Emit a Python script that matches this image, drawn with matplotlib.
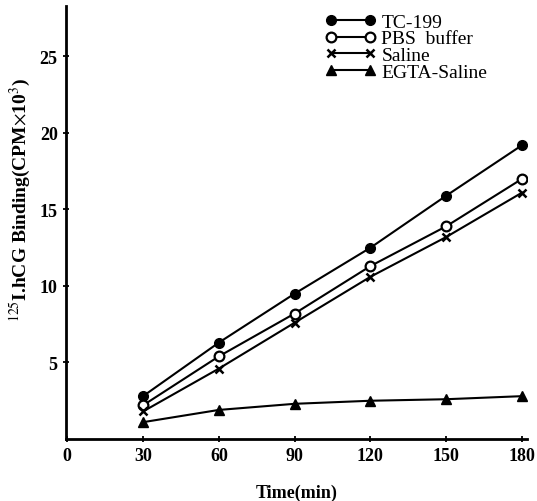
import matplotlib.pyplot as plt

# Data
time = [30, 60, 90, 120, 150, 180]
tc199 = [2.8, 6.3, 9.5, 12.5, 15.9, 19.2]
pbs = [2.2, 5.4, 8.2, 11.3, 13.9, 17.0]
saline = [1.8, 4.6, 7.6, 10.6, 13.2, 16.1]
egta = [1.1, 1.9, 2.3, 2.5, 2.6, 2.8]

xticks = [0, 30, 60, 90, 120, 150, 180]
yticks = [5, 10, 15, 20, 25]

plt.rcParams['font.family'] = 'Liberation Serif'
plt.rcParams['mathtext.fontset'] = 'stix'

fig = plt.figure(figsize=(5.37, 5.02), dpi=100)
ax = fig.add_axes([66 / 537, 1 - 440 / 502, 461 / 537, 433 / 502])

ax.plot(time, tc199, '-', color='black', lw=1.5, marker='o', ms=7,
        mfc='black', label='TC-199')
ax.plot(time, pbs, '-', color='black', lw=1.5, marker='o', ms=7,
        mfc='white', mew=1.6, label='PBS  buffer')
ax.plot(time, saline, '-', color='black', lw=1.5, marker='x', ms=6,
        mew=1.8, label='Saline')
ax.plot(time, egta, '-', color='black', lw=1.5, marker='^', ms=7,
        mfc='black', label='EGTA-Saline')

ax.set_xlim(-0.5, 182)
ax.set_ylim(0, 28.3)
ax.set_xticks(xticks)
ax.set_yticks(yticks)
ax.tick_params(axis='both', direction='inout', length=5, width=1.3,
               labelsize=13)
for lbl in ax.get_xticklabels() + ax.get_yticklabels():
    lbl.set_fontweight('bold')

for s in ['top', 'right']:
    ax.spines[s].set_visible(False)
for s in ['left', 'bottom']:
    ax.spines[s].set_linewidth(2)

ax.set_xlabel('Time(min)', fontsize=13, fontweight='bold', labelpad=14)
ax.set_ylabel(r'$^{125}$I.hCG Binding(CPM$\times$10$^{3}$)', fontsize=14,
              fontweight='bold')
ax.yaxis.set_label_coords(-0.072, 0.555)

ax.legend(loc='upper left', bbox_to_anchor=(0.545, 1.002), frameon=False,
          numpoints=2, handlelength=2.6, handletextpad=0.3,
          labelspacing=-0.04, borderaxespad=0,
          prop={'size': 14})

plt.savefig('out.png', dpi=100)
